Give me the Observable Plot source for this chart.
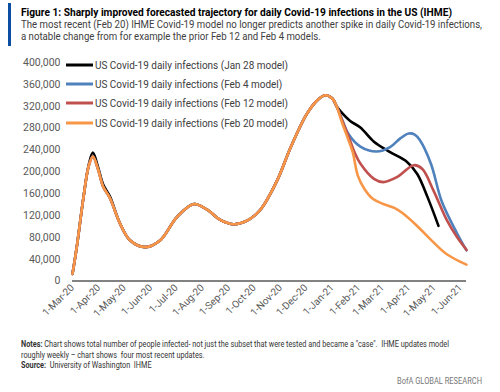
<!DOCTYPE html>
<html>
<head>
<meta charset="utf-8">
<script src="https://cdn.jsdelivr.net/npm/d3@7"></script>
<script src="https://cdn.jsdelivr.net/npm/@observablehq/plot@0.6"></script>
<style>
  html, body { margin: 0; padding: 0; background: #fff; }
  body { width: 500px; height: 392px; position: relative; overflow: hidden;
         font-family: Roboto, "DejaVu Sans Condensed", sans-serif; }
  #bar { position: absolute; left: 8px; top: 3px; width: 3px; height: 43px; background: #0b4ea2; }
  #title { position: absolute; left: 21px; top: 5px; font-size: 11.5px; line-height: 14px; font-weight: bold; color: #000; white-space: nowrap; }
  #subtitle { position: absolute; left: 21px; top: 19px; font-size: 11px; line-height: 12px; color: #404040; white-space: nowrap; }
  #chart { position: absolute; left: 0; top: 50px; }
  #legend { position: absolute; left: 66px; top: 55.5px; }
  .row { display: flex; align-items: center; height: 19.2px; white-space: nowrap; }
  .row svg { margin-right: 2px; flex: none; }
  .lab { display: inline-block; font-size: 11.5px; color: #404040; transform-origin: 0 50%; }
  #notes { position: absolute; left: 21px; top: 339px; font-size: 8.5px; line-height: 10.7px; color: #333; white-space: nowrap; }
  #bofa { position: absolute; left: 397px; top: 376px; font-size: 8.5px; color: #777; white-space: nowrap; }
</style>
</head>
<body>
<div id="bar"></div>
<div id="title">Figure 1: Sharply improved forecasted trajectory for daily Covid-19 infections in the US (IHME)</div>
<div id="subtitle">The most recent (Feb 20) IHME Covid-19 model no longer predicts another spike in daily Covid-19 infections,<br>a notable change from for example the prior Feb 12 and Feb 4 models.</div>
<div id="chart"></div>
<div id="legend"></div>
<div id="notes"><b>Notes:</b> Chart shows total number of people infected- not just the subset that were tested and became a "case".&nbsp; IHME updates model<br>roughly weekly – chart shows&nbsp; four most recent updates.<br><b>Source:</b>&nbsp; University of Washington&nbsp; IHME</div>
<div id="bofa">BofA GLOBAL RESEARCH</div>
<script>
// ---- data (values in thousands of daily infections) ----
const models = [
  "US Covid-19 daily infections (Jan 28 model)",
  "US Covid-19 daily infections (Feb 4 model)",
  "US Covid-19 daily infections (Feb 12 model)",
  "US Covid-19 daily infections (Feb 20 model)"
];
const modelColors = ["#000000", "#4F81BD", "#C0504D", "#F79646"];

const histDates = ["2020-03-01","2020-03-06","2020-03-14","2020-03-20","2020-03-25","2020-03-31","2020-04-06","2020-04-14","2020-04-26","2020-05-08","2020-05-26","2020-06-12","2020-07-02","2020-07-22","2020-08-07","2020-08-22","2020-09-07","2020-09-22","2020-10-08","2020-10-28","2020-11-13","2020-12-02","2020-12-15","2020-12-24","2021-01-01","2021-01-06"];
const histValues = [13, 62, 154, 210, 228, 205, 173, 152, 105, 74, 62, 74, 117, 141, 130, 112, 104, 110, 130, 184, 245, 306, 332, 340, 334, 320];

// Jan 28 model shows a slightly higher first wave
const jan28Wave1Dates = ["2020-03-20","2020-03-25","2020-03-31","2020-04-06","2020-04-14"];
const jan28Wave1Values = [212, 235, 209, 177, 155];

const jan28Dates = ["2021-01-11","2021-01-22","2021-02-03","2021-02-19","2021-03-10","2021-03-30","2021-04-11","2021-04-23","2021-05-06"];
const jan28Values = [310, 293, 281, 255, 236, 218, 196, 154, 101];

const feb4Dates = ["2021-01-13","2021-01-20","2021-02-03","2021-02-22","2021-03-10","2021-03-22","2021-04-01","2021-04-08","2021-04-14","2021-04-27","2021-05-10","2021-05-28","2021-06-08"];
const feb4Values = [294, 269, 246, 237, 245, 261, 270, 268, 258, 215, 145, 87, 56];

const feb12Dates = ["2021-01-13","2021-01-20","2021-01-27","2021-02-03","2021-02-19","2021-03-02","2021-03-18","2021-04-07","2021-04-17","2021-04-30","2021-05-16","2021-05-28","2021-06-08"];
const feb12Values = [292, 265, 236, 215, 187, 181, 190, 212, 205, 166, 111, 80, 57];

const feb20Dates = ["2021-01-12","2021-01-19","2021-01-25","2021-01-31","2021-02-08","2021-02-18","2021-03-02","2021-03-15","2021-03-25","2021-04-10","2021-04-28","2021-05-15","2021-06-01","2021-06-08"];
const feb20Values = [292, 262, 236, 193, 168, 150, 141, 134, 124, 102, 74, 50, 35, 30];

const yTicks = [0, 40000, 80000, 120000, 160000, 200000, 240000, 280000, 320000, 360000, 400000];
const monthTicks = ["2020-03-01","2020-04-01","2020-05-01","2020-06-01","2020-07-01","2020-08-01","2020-09-01","2020-10-01","2020-11-01","2020-12-01","2021-01-01","2021-02-01","2021-03-01","2021-04-01","2021-05-01","2021-06-01"];
const xDomain = ["2020-03-01", "2021-06-08"];

// ---- build table ----
function build(model, fDates, fValues, override) {
  const ov = new Map();
  if (override) override[0].forEach((d, i) => ov.set(d, override[1][i]));
  const rows = histDates.map((d, i) => ({model, date: new Date(d), value: (ov.has(d) ? ov.get(d) : histValues[i]) * 1000}));
  fDates.forEach((d, i) => rows.push({model, date: new Date(d), value: fValues[i] * 1000}));
  return rows;
}
const rows = [
  ...build(models[0], jan28Dates, jan28Values, [jan28Wave1Dates, jan28Wave1Values]),
  ...build(models[1], feb4Dates, feb4Values),
  ...build(models[2], feb12Dates, feb12Values),
  ...build(models[3], feb20Dates, feb20Values)
];

const chart = Plot.plot({
  width: 500,
  height: 290,
  marginTop: 12,
  marginBottom: 59.5,
  marginLeft: 72,
  marginRight: 34,
  style: {fontFamily: 'Roboto, "DejaVu Sans Condensed", sans-serif', fontSize: "10.5px", color: "#595959", background: "transparent", overflow: "visible"},
  x: {type: "utc", domain: xDomain.map(d => new Date(d))},
  y: {domain: [0, 400000]},
  color: {domain: models, range: modelColors},
  marks: [
    Plot.axisY({ticks: yTicks, tickSize: 0, tickPadding: 12, tickFormat: d3.format(","), label: null, fontSize: 10.5}),
    Plot.axisX({ticks: monthTicks.map(d => new Date(d)), tickSize: 0, tickPadding: 5, tickRotate: -45, tickFormat: d3.utcFormat("%-d-%b-%y"), label: null, fontSize: 10}),
    Plot.ruleY([0], {stroke: "#595959", strokeWidth: 1.5}),
    Plot.line(rows, {x: "date", y: "value", z: "model", stroke: "model", strokeWidth: 2.6, curve: "catmull-rom"})
  ]
});
document.getElementById("chart").appendChild(chart);

// legend
const legend = document.getElementById("legend");
models.forEach((m, i) => {
  const row = document.createElement("div");
  row.className = "row";
  row.innerHTML = `<svg width="27" height="6"><line x1="0" y1="3" x2="27" y2="3" stroke="${modelColors[i]}" stroke-width="3"/></svg><span class="lab">${m}</span>`;
  legend.appendChild(row);
});

// condense text blocks horizontally to the reference widths
function fit(el, target) {
  const w = el.getBoundingClientRect().width;
  el.style.transformOrigin = "0 0";
  el.style.transform = `scaleX(${target / w})`;
}
fit(document.getElementById("title"), 431);
fit(document.getElementById("subtitle"), 461);
fit(document.getElementById("notes"), 428);
fit(document.getElementById("bofa"), 85);
const labs = [...document.querySelectorAll(".lab")];
const s = 193 / labs[0].getBoundingClientRect().width;
labs.forEach(l => { l.style.transform = `scaleX(${s})`; });
</script>
</body>
</html>
